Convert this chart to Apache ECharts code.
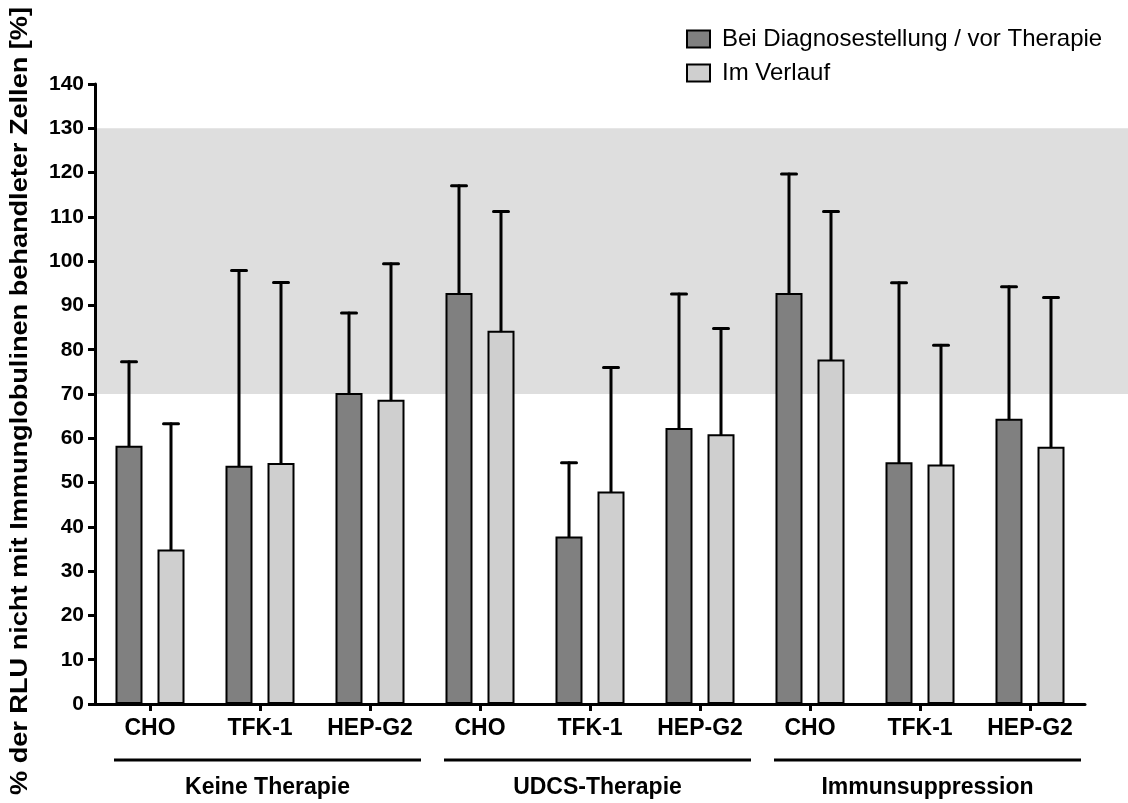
<!DOCTYPE html>
<html>
<head>
<meta charset="utf-8">
<title>RLU nach Therapiegruppe</title>
<script src="https://cdn.jsdelivr.net/npm/echarts@6/dist/echarts.min.js"></script>
<style>
  html, body { margin: 0; padding: 0; background: #fff; }
  #chart { width: 1128px; height: 803px; }
</style>
</head>
<body>
<div id="chart"></div>
<script>
// Zelllinien je Therapiegruppe (drei Gruppen, je drei Zelllinien)
const categories = ['CHO', 'TFK-1', 'HEP-G2', 'CHO', 'TFK-1', 'HEP-G2', 'CHO', 'TFK-1', 'HEP-G2'];
const groups = ['Keine Therapie', 'UDCS-Therapie', 'Immunsuppression'];
const seriesNames = ['Bei Diagnosestellung / vor Therapie', 'Im Verlauf'];
const yTitle = '% der RLU nicht mit Immunglobulinen behandleter Zellen [%]';

// Mittelwerte und Standardabweichungen (% RLU)
const beforeMean = [58.3, 53.8, 70.2, 92.8, 37.8, 62.3, 92.8, 54.6, 64.4];
const beforeSD   = [19.0, 44.1, 18.1, 24.2, 16.7, 30.3, 26.9, 40.5, 29.8];
const laterMean  = [34.9, 54.4, 68.7, 84.3, 48.0, 60.9, 77.8, 54.1, 58.1];
const laterSD    = [28.4, 40.8, 30.7, 26.9, 28.0, 23.9, 33.4, 26.9, 33.7];

// Referenzbereich (grau hinterlegt)
const normalRange = [70, 130];

const yTicks = { min: 0, max: 140, interval: 10 };

const FONT = '"Liberation Sans", Arial, Helvetica, sans-serif';
const BAR_W = 27;
const BAR_GAP = 15;
const HALF_OFFSET = (BAR_W + BAR_GAP) / 2;

const chart = echarts.init(document.getElementById('chart'), null, { renderer: 'canvas' });

// Fehlerbalken nur nach oben (Mittelwert + SD) mit Querstrich
function errorBar(side) {
  return function (params, api) {
    const idx = api.value(0);
    const base = api.coord([idx, api.value(1)]);
    const top = api.coord([idx, api.value(1) + api.value(2)]);
    const x = base[0] + side * HALF_OFFSET;
    const style = { stroke: '#000', lineWidth: 3, lineCap: 'round' };
    return {
      type: 'group',
      children: [
        { type: 'line', shape: { x1: x, y1: base[1], x2: x, y2: top[1] }, style: style },
        { type: 'line', shape: { x1: x - 7.5, y1: top[1], x2: x + 7.5, y2: top[1] }, style: style }
      ]
    };
  };
}

const option = {
  animation: false,
  backgroundColor: '#fff',
  grid: { left: 95, right: 43, top: 84, bottom: 99, containLabel: false },
  legend: {
    orient: 'vertical',
    left: 681,
    top: 22,
    itemWidth: 23,
    itemHeight: 17,
    itemGap: 10,
    textStyle: { fontFamily: FONT, fontSize: 24, color: '#000', padding: [0, 0, 0, 7] },
    data: seriesNames.map(n => ({ name: n, icon: 'rect' }))
  },
  xAxis: {
    type: 'category',
    data: categories,
    boundaryGap: true,
    axisLine: { lineStyle: { color: '#000', width: 3 } },
    axisTick: { show: true, alignWithLabel: true, length: 7, lineStyle: { color: '#000', width: 3 } },
    axisLabel: { interval: 0, margin: 13, fontFamily: FONT, fontSize: 23, fontWeight: 'bold', color: '#000' },
    splitLine: { show: false }
  },
  yAxis: {
    type: 'value',
    min: yTicks.min,
    max: yTicks.max,
    interval: yTicks.interval,
    axisLine: { show: true, lineStyle: { color: '#000', width: 3 } },
    axisTick: { show: true, length: 7, lineStyle: { color: '#000', width: 3 } },
    axisLabel: { margin: 11, fontFamily: FONT, fontSize: 21, fontWeight: 'bold', color: '#000' },
    splitLine: { show: false }
  },
  series: [
    {
      name: seriesNames[0],
      type: 'bar',
      data: beforeMean,
      barWidth: BAR_W,
      barGap: (BAR_GAP / BAR_W * 100).toFixed(1) + '%',
      itemStyle: { color: '#808080', borderColor: '#000', borderWidth: 2 },
      z: 3
    },
    {
      name: seriesNames[1],
      type: 'bar',
      data: laterMean,
      barWidth: BAR_W,
      itemStyle: { color: '#cfcfcf', borderColor: '#000', borderWidth: 2 },
      z: 3
    },
    {
      type: 'custom',
      renderItem: errorBar(-1),
      data: beforeMean.map((m, i) => [i, m, beforeSD[i]]),
      encode: { x: 0, y: 1 },
      z: 4,
      silent: true
    },
    {
      type: 'custom',
      renderItem: errorBar(1),
      data: laterMean.map((m, i) => [i, m, laterSD[i]]),
      encode: { x: 0, y: 1 },
      z: 4,
      silent: true
    }
  ]
};

chart.setOption(option);

// Referenzband, Achsentitel, Gruppenlinien und Gruppenbeschriftungen über die Achsenskalen platzieren
function placeOverlay() {
  const toPx = (ci, v) => chart.convertToPixel({ xAxisIndex: 0, yAxisIndex: 0 }, [ci, v]);
  const top = toPx(0, normalRange[1]);
  const bottom = toPx(0, normalRange[0]);
  const left = option.grid.left + 1.5;
  const elements = [{
    type: 'rect',
    z: -10,
    silent: true,
    shape: { x: left, y: top[1], width: 1128 - left, height: bottom[1] - top[1] },
    style: { fill: '#dedede' }
  }, {
    type: 'text',
    silent: true,
    x: 20,
    y: 401,
    rotation: Math.PI / 2,
    scaleX: 1.13,
    style: {
      text: yTitle,
      fill: '#000',
      font: 'bold 24px ' + FONT,
      align: 'center',
      verticalAlign: 'middle'
    }
  }];
  const step = toPx(1, 0)[0] - toPx(0, 0)[0];
  groups.forEach((g, gi) => {
    const first = toPx(gi * 3, 0)[0] - step / 2;
    const last = toPx(gi * 3 + 2, 0)[0] + step / 2;
    const x1 = first + 19;
    const x2 = last - 4;
    elements.push({
      type: 'line',
      silent: true,
      shape: { x1: x1, y1: 760, x2: x2, y2: 760 },
      style: { stroke: '#000', lineWidth: 3 }
    });
    elements.push({
      type: 'text',
      silent: true,
      x: (x1 + x2) / 2,
      y: 788,
      style: {
        text: g,
        fill: '#000',
        font: 'bold 23px ' + FONT,
        align: 'center',
        verticalAlign: 'middle'
      }
    });
  });
  chart.setOption({ graphic: { elements: elements } });
}
placeOverlay();
</script>
</body>
</html>
